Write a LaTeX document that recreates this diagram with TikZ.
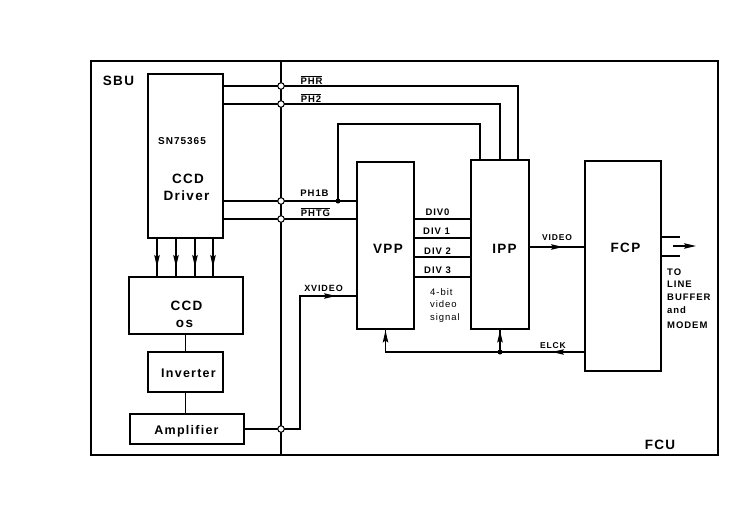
\documentclass[tikz,border=0pt]{standalone}
\usepackage{fontspec}
\setmainfont{Liberation Sans}[LetterSpace=10]
\usetikzlibrary{arrows.meta}
\newcommand\ovl[1]{\ensuremath{\overline{\mbox{#1}}}}
\newcommand\fs[1]{\fontsize{#1}{#1}\selectfont\bfseries}
\begin{document}
\begin{tikzpicture}[x=1pt,y=-1pt,
  blk/.style={draw, line width=1.6pt, inner sep=0pt},
  wire/.style={line width=1.3pt},
  thickwire/.style={line width=1.7pt},
  lbl/.style={anchor=base, inner sep=0pt, font=\fs{9.5}},
  big/.style={anchor=base, inner sep=0pt, font=\fs{13.5}},
  lft/.style={anchor=base west, inner sep=0pt},
  junc/.style={circle, draw, fill=white, line width=1pt, inner sep=0pt, minimum size=6.5pt},
  dotn/.style={circle, fill, inner sep=0pt, minimum size=5pt},
  arr/.style={-{Stealth[length=12pt,width=5.5pt,inset=2pt]}, line width=1.2pt}
]
\useasboundingbox (0,0) rectangle (738,519);
% frame
\node[blk, line width=2pt, minimum width=627pt, minimum height=394pt] (frame) at (404.5,258) {};
% boxes
\node[blk, minimum width=75pt, minimum height=164pt] (drv) at (185.5,156) {};
\node[blk, minimum width=114pt, minimum height=57pt] (ccd) at (186,305.5) {};
\node[blk, minimum width=75pt, minimum height=40pt] (inv) at (185.5,372) {};
\node[blk, minimum width=114pt, minimum height=30pt] (amp) at (187,429) {};
\node[blk, minimum width=57pt, minimum height=167pt] (vpp) at (385.5,245.5) {};
\node[blk, minimum width=58pt, minimum height=169pt] (ipp) at (500,244.5) {};
\node[blk, minimum width=76pt, minimum height=210pt] (fcp) at (623,266) {};
% coordinates
\coordinate (busx) at (281,0);
\coordinate (jPHR) at (281,86);
\coordinate (jPH2) at (281,104);
\coordinate (jPH1B) at (281,201);
\coordinate (jPHTG) at (281,219);
\coordinate (jAMP) at (281,429);
\coordinate (kPHR) at (518,86);
\coordinate (kPH2) at (500,104);
\coordinate (dotA) at (338,201);
\coordinate (pA) at (338,124);
\coordinate (pB) at (480,124);
\coordinate (dB) at (0,238);
\coordinate (dC) at (0,257);
\coordinate (dD) at (0,277);
\coordinate (vid) at (0,247);
\coordinate (el) at (0,352);
\coordinate (xc1) at (300,429);
\coordinate (xc2) at (300,296);
\coordinate (o1) at (680,237);
\coordinate (o2) at (680,256);
\coordinate (oa) at (673,246);
\coordinate (ob) at (696,246);
% arrow tips
\coordinate (tipV) at (563,247);
\coordinate (tipE) at (552,352);
\coordinate (tipX) at (336,296);
\coordinate (tipVP) at (385.5,330.5);
\coordinate (tipIP) at (500,330.5);
\coordinate (tipy) at (0,267);
% bus
\draw[thickwire] (frame.north -| busx) -- (frame.south -| busx);
% driver outputs
\draw[thickwire] (drv.east |- jPHR) -- (jPHR);
\draw[wire] (jPHR) -- (kPHR) -- (kPHR |- ipp.north);
\draw[thickwire] (drv.east |- jPH2) -- (jPH2);
\draw[wire] (jPH2) -- (kPH2) -- (kPH2 |- ipp.north);
\draw[thickwire] (drv.east |- jPH1B) -- (vpp.west |- jPH1B);
\draw[wire] (dotA) -- (pA) -- (pB) -- (pB |- ipp.north);
\draw[thickwire] (drv.east |- jPHTG) -- (vpp.west |- jPHTG);
% DIV lines
\draw[wire] (vpp.east |- jPHTG) -- (ipp.west |- jPHTG);
\draw[wire] (vpp.east |- dB) -- (ipp.west |- dB);
\draw[wire] (vpp.east |- dC) -- (ipp.west |- dC);
\draw[wire] (vpp.east |- dD) -- (ipp.west |- dD);
% VIDEO
\draw[wire] (ipp.east |- vid) -- (fcp.west |- vid);
\draw[arr] (ipp.east |- vid) -- (tipV);
% ELCK
\draw[wire] (fcp.west |- el) -- (el -| vpp.south) -- (vpp.south);
\draw[arr] (fcp.west |- el) -- (tipE);
\draw[arr] (vpp.south |- el) -- (tipVP);
\draw[wire] (ipp.south |- el) -- (ipp.south);
\draw[arr] (ipp.south |- el) -- (tipIP);
% left chain
\foreach \a in {157,176,195,213} {
  \coordinate (ax) at (\a,0);
  \draw[wire] (drv.south -| ax) -- (ccd.north -| ax);
  \draw[arr] (drv.south -| ax) -- (tipy -| ax);
}
\draw[wire] (inv.north |- ccd.south) -- (inv.north);
\draw[wire] (inv.south) -- (inv.south |- amp.north);
\draw[wire] (amp.east) -- (jAMP) -- (xc1) -- (xc2) -- (vpp.west |- xc2);
\draw[arr] (xc2) -- (tipX);
% FCP outputs
\draw[wire] (fcp.east |- o1) -- (o1);
\draw[wire] (fcp.east |- o2) -- (o2);
\draw[arr] (oa) -- (ob);
% junctions & dots
\node[junc] (cPHR) at (jPHR) {};
\node[junc] (cPH2) at (jPH2) {};
\node[junc] (cPH1B) at (jPH1B) {};
\node[junc] (cPHTG) at (jPHTG) {};
\node[junc] (cAMP) at (jAMP) {};
\node[dotn] (dt1) at (dotA) {};
\node[dotn] (dt2) at (ipp.south |- el) {};
% texts
\node[big] (tSBU) at (118.5,85) {SBU};
\node[big] (tFCU) at (660,449) {FCU};
\node[lbl, font=\fs{10}] (tSN) at (182,144) {SN75365};
\node[big] (tCCD1) at (188,183) {CCD};
\node[big] (tDrv) at (186.5,200) {Driver};
\node[big] (tCCD2) at (186.5,310) {CCD};
\node[big] (tOS) at (184.5,327) {os};
\node[big, font=\fs{12.5}] (tInv) at (188.5,377) {Inverter};
\node[big, font=\fs{12.5}] (tAmp) at (186.5,434) {Amplifier};
\node[big] (tVPP) at (388,253) {VPP};
\node[big] (tIPP) at (504.5,253) {IPP};
\node[big] (tFCP) at (625.5,252) {FCP};
\node[lbl] (tPHR) at (311.5,84) {\ovl{PHR}};
\node[lbl] (tPH2) at (311,102) {\ovl{PH2}};
\node[lbl] (tPH1B) at (314.5,196) {PH1B};
\node[lbl] (tPHTG) at (315.5,216) {\ovl{PHTG}};
\node[lbl] (tD0) at (437.5,215) {DIV0};
\node[lbl] (tD1) at (436.5,234) {DIV 1};
\node[lbl] (tD2) at (437.5,254) {DIV 2};
\node[lbl] (tD3) at (437.5,273) {DIV 3};
\node[lft, font=\fs{9.5}\mdseries] (t4a) at (430,295) {4-bit};
\node[lft, font=\fs{9.5}\mdseries] (t4b) at (430,307.5) {video};
\node[lft, font=\fs{9.5}\mdseries] (t4c) at (430,320) {signal};
\node[lbl, font=\fs{9}] (tXV) at (323.5,291) {XVIDEO};
\node[lbl, font=\fs{8.5}] (tV) at (557,240) {VIDEO};
\node[lbl, font=\fs{8.5}] (tE) at (553,348) {ELCK};
\node[lft, font=\fs{9.5}] (tTO) at (667,275) {TO};
\node[lft, font=\fs{9.5}] (tLI) at (667,287) {LINE};
\node[lft, font=\fs{9.5}] (tBU) at (667,300) {BUFFER};
\node[lft, font=\fs{9.5}] (tAN) at (667,313) {and};
\node[lft, font=\fs{9.5}] (tMO) at (667,328) {MODEM};
\end{tikzpicture}
\end{document}
